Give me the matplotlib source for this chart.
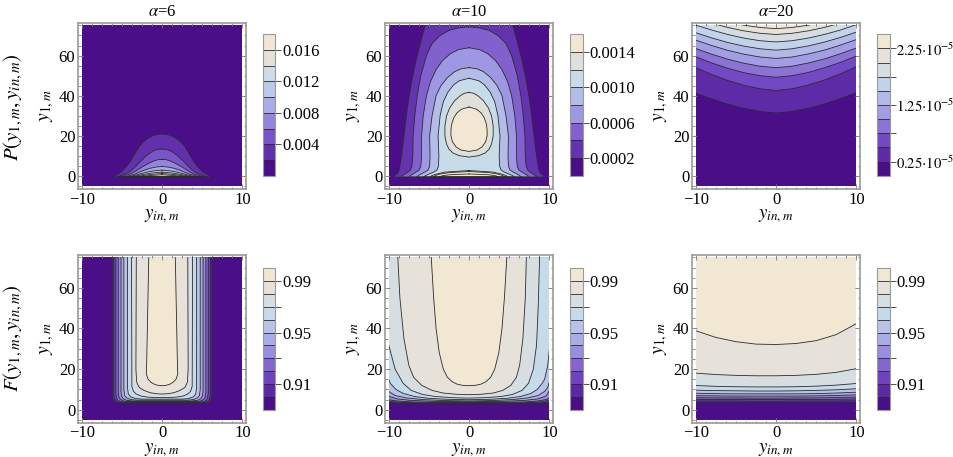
import numpy as np
import matplotlib
matplotlib.use("Agg")
import matplotlib.pyplot as plt
from matplotlib.colors import LinearSegmentedColormap, ListedColormap, BoundaryNorm
from matplotlib.cm import ScalarMappable
from matplotlib.patches import Rectangle
from matplotlib.ticker import FixedLocator, AutoMinorLocator

plt.rcParams['font.family'] = ['Liberation Serif', 'DejaVu Serif']
plt.rcParams['mathtext.fontset'] = 'stix'

# ---------------- data ----------------
# each part: (band above the contour, y1 values, left half width, right half width)
# right half width None -> symmetric about y_in = 0

# P, alpha=6
p6_bounds = [0, 0.002, 0.004, 0.006, 0.008, 0.010, 0.012, 0.014, 0.016, 0.018]
p6_parts = [
    (1, [-0.4, 0.3, 1, 2, 4, 7, 10, 13, 15.5, 17.5, 19, 20.2, 20.8, 21.0],
        [6.2, 5.9, 5.5, 5.1, 4.6, 4.0, 3.55, 3.1, 2.7, 2.2, 1.7, 1.1, 0.6, 0], None),
    (2, [-0.4, 0.3, 1, 2, 4, 6, 8, 10, 11.5, 12.7, 13.3, 13.5],
        [5.6, 5.1, 4.6, 4.1, 3.5, 3.0, 2.5, 2.0, 1.5, 1.0, 0.5, 0], None),
    (3, [-0.4, 0.3, 1, 2, 3.5, 5, 6.5, 7.6, 8.2, 8.4],
        [5.2, 4.6, 4.0, 3.5, 2.9, 2.3, 1.6, 1.0, 0.5, 0], None),
    (4, [-0.4, 0.3, 1, 2, 3, 4, 4.5, 4.8],
        [4.8, 4.0, 3.4, 2.8, 2.2, 1.4, 0.8, 0], None),
    (5, [-0.4, 0.3, 1, 2, 2.6, 3.0], [4.4, 3.5, 2.8, 1.9, 1.1, 0], None),
    (6, [-0.4, 0.3, 1, 1.6, 2.0], [4.0, 3.0, 2.1, 1.2, 0], None),
    (7, [-0.4, 0.3, 0.9, 1.3], [3.6, 2.4, 1.3, 0], None),
    (8, [-0.4, 0.3, 0.7], [3.1, 1.5, 0], None),
]

# P, alpha=10
p10_bounds = [0, 0.0002, 0.0004, 0.0006, 0.0008, 0.0010, 0.0012, 0.0014, 0.0016]
p10_parts = [
    (1, [-0.5, 0.3, 1, 2, 3, 5, 10, 20, 30, 40, 50, 60, 70, 75],
        [9.3, 9.3, 9.0, 8.8, 8.7, 8.6, 8.4, 8.1, 7.8, 7.45, 7.0, 6.45, 5.8, 5.45], None),
    (2, [-0.5, 0.3, 1, 2, 3, 5, 10, 20, 30, 40, 50, 60, 66, 70, 72.5, 73.7, 74.3],
        [8.4, 8.3, 8.0, 7.6, 7.3, 7.1, 7.0, 6.95, 6.75, 6.45, 6.0, 5.3, 4.6, 3.6, 2.5, 1.4, 0], None),
    (3, [-0.5, 0.3, 1, 2, 3, 5, 10, 20, 30, 40, 47, 53, 57.5, 61, 63, 63.9],
        [7.4, 7.3, 7.0, 6.6, 6.2, 6.0, 5.9, 5.9, 5.7, 5.3, 4.8, 4.1, 3.3, 2.3, 1.3, 0], None),
    (4, [-0.5, 0.3, 1, 2, 3, 5, 10, 20, 30, 40, 45, 49, 52, 53.4, 54],
        [6.5, 6.3, 6.0, 5.5, 5.1, 4.9, 4.85, 4.9, 4.6, 4.1, 3.5, 2.7, 1.8, 1.0, 0], None),
    (5, [-0.5, 0.3, 1, 2, 3, 5, 10, 20, 30, 37, 42, 45.5, 47.5, 48.7],
        [5.7, 5.4, 5.0, 4.4, 4.0, 3.8, 3.75, 3.85, 3.6, 3.2, 2.6, 1.9, 1.2, 0], None),
    (6, [9.5, 10.2, 11.5, 13.5, 16, 20, 25, 30, 34, 37.5, 40, 41.2, 41.7],
        [0, 1.2, 2.0, 2.5, 2.8, 3.0, 3.0, 2.8, 2.4, 1.8, 1.1, 0.6, 0], None),
    (6, [-0.5, 0.3, 1, 2, 2.8], [4.9, 4.6, 4.1, 3.0, 0], None),
    (7, [12.3, 13, 14.5, 17, 20, 23, 26, 29, 31.5, 33.3, 34.4],
        [0, 1.0, 1.6, 2.05, 2.25, 2.25, 2.15, 1.9, 1.5, 0.95, 0], None),
    (7, [-0.5, 0.3, 1, 1.8, 2.3], [4.5, 4.2, 3.6, 2.4, 0], None),
    (7, [-0.5, 0.2, 0.7, 1.1], [3.8, 3.3, 2.4, 0], None),
]

# P, alpha=20 : contour heights y1(y_in), region above is higher
p20_bounds = [0, 0.25, 0.5, 0.75, 1.0, 1.25, 1.5, 1.75, 2.0, 2.25, 2.5]  # x 1e-5
p20_x = [-10, -8, -6, -4, -2, 0, 2, 4, 6, 8, 10]
p20_h = [
    [41.3, 38.4, 35.8, 33.7, 32.2, 31.4, 32.2, 33.7, 35.9, 38.5, 41.6],
    [54.0, 50.6, 47.6, 45.2, 43.5, 42.6, 43.5, 45.3, 47.8, 50.9, 54.5],
    [59.4, 56.3, 53.7, 51.5, 50.0, 49.2, 50.0, 51.6, 53.9, 56.6, 59.8],
    [63.5, 60.7, 58.2, 56.2, 54.7, 54.0, 54.7, 56.3, 58.3, 60.9, 63.8],
    [67.7, 65.0, 62.6, 60.7, 59.3, 58.6, 59.3, 60.8, 62.7, 65.2, 68.0],
    [71.4, 68.8, 66.5, 64.7, 63.4, 62.7, 63.4, 64.8, 66.7, 69.0, 71.7],
    [75.2, 72.7, 70.5, 68.7, 67.4, 66.8, 67.4, 68.7, 70.5, 72.7, 75.4],
    [78.5, 76.1, 74.0, 72.3, 71.1, 70.5, 71.1, 72.3, 74.0, 76.1, 78.8],
    [81.0, 78.7, 76.7, 75.1, 74.0, 73.4, 74.0, 75.1, 76.7, 78.7, 81.0],
]

# F, bounds shared by the three lower panels
f_bounds = [0.89, 0.90, 0.91, 0.92, 0.93, 0.94, 0.95, 0.96, 0.97, 0.98, 0.99, 1.00]

# F, alpha=6
f6_parts = [
    (1, [3.1, 3.4, 4.0, 5.0, 7.0, 75], [5.3, 5.8, 6.0, 6.1, 6.2, 6.2], None),
    (2, [3.4, 3.7, 4.3, 5.3, 7.5, 75], [5.0, 5.5, 5.75, 5.9, 6.0, 6.0], None),
    (3, [3.7, 4.0, 4.6, 5.6, 8.0, 75], [4.6, 5.2, 5.5, 5.65, 5.75, 5.75], None),
    (4, [4.0, 4.3, 5.0, 6.0, 8.5, 75], [4.2, 4.85, 5.15, 5.35, 5.45, 5.45], None),
    (5, [4.3, 4.6, 5.3, 6.5, 9.0, 75], [3.7, 4.4, 4.8, 5.0, 5.1, 5.1], None),
    (6, [4.7, 5.0, 5.8, 7.0, 10, 75], [3.2, 3.9, 4.4, 4.65, 4.75, 4.75], None),
    (7, [5.2, 5.5, 6.3, 7.8, 11, 75], [2.5, 3.3, 3.9, 4.2, 4.3, 4.3], None),
    (8, [6.0, 6.2, 6.7, 7.7, 9.0, 11.5, 75], [1.0, 1.8, 2.6, 3.2, 3.55, 3.75, 3.8], None),
    (9, [7.7, 7.9, 8.4, 9.5, 11, 13.5, 20, 75], [0, 0.8, 1.5, 2.25, 2.85, 3.15, 3.25, 3.2], None),
    (10, [11.8, 12.0, 12.5, 13.5, 15, 17.5, 25, 75], [0, 0.5, 0.93, 1.38, 1.74, 1.95, 1.9, 1.65], None),
]

# F, alpha=10 (slightly lopsided: right side falls off sooner)
f10_parts = [
    (1, [2.9, 3.1, 3.5, 4.0, 75], [8.5, 9.8, 10.4, 10.6, 10.6], [8.5, 9.8, 10.4, 10.6, 10.6]),
    (2, [3.1, 3.3, 3.7, 4.3, 75], [7.5, 9.2, 10.2, 10.6, 10.6], [7.5, 9.0, 10.0, 10.6, 10.6]),
    (3, [3.35, 3.55, 4.0, 4.7, 5.3, 75], [6.0, 8.3, 9.6, 10.3, 10.6, 10.6],
        [6.0, 8.1, 9.3, 10.0, 10.6, 10.6]),
    (4, [3.6, 3.8, 4.3, 5.0, 5.8, 7.0, 75], [4.0, 7.0, 9.0, 10.1, 10.6, 10.6, 10.6],
        [4.0, 6.8, 8.6, 9.6, 10.0, 10.6, 10.6]),
    (5, [3.9, 4.1, 4.6, 5.3, 6.3, 6.8, 8.0, 9.5, 75],
        [0, 4.5, 7.3, 8.9, 9.8, 10.0, 10.6, 10.6, 10.6],
        [0, 4.3, 7.0, 8.5, 9.3, 9.6, 9.8, 10.0, 10.6]),
    (6, [4.3, 4.5, 5.0, 5.8, 7.0, 9.0, 11, 14, 75],
        [0, 3.2, 5.8, 7.8, 9.2, 10.0, 10.6, 10.6, 10.6],
        [0, 3.0, 5.5, 7.3, 8.6, 9.4, 9.8, 10.0, 10.6]),
    (7, [4.9, 5.1, 5.6, 6.5, 8.0, 10, 13, 15, 22, 30, 75],
        [0, 2.6, 5.0, 6.8, 8.2, 9.1, 9.8, 10.0, 10.6, 10.6, 10.6],
        [0, 2.5, 4.7, 6.4, 7.7, 8.5, 9.1, 9.4, 9.8, 10.0, 10.6]),
    (8, [5.7, 5.9, 6.5, 7.5, 9.5, 13, 20, 32, 50, 75],
        [0, 2.0, 4.2, 5.8, 7.2, 8.2, 9.2, 10.0, 10.6, 10.6],
        [0, 1.9, 4.0, 5.4, 6.6, 7.4, 8.0, 8.4, 8.6, 8.78]),
    (9, [7.4, 7.6, 8.2, 9.5, 12, 16, 22, 35, 55, 75],
        [0, 1.6, 3.2, 4.6, 5.9, 6.9, 7.5, 8.1, 8.6, 8.86],
        [0, 1.5, 3.0, 4.2, 5.2, 5.9, 6.3, 6.7, 7.0, 7.13]),
    (10, [11.8, 12.0, 12.6, 13.8, 16, 20, 28, 40, 55, 75],
        [0, 0.8, 1.5, 2.1, 2.7, 3.2, 3.7, 4.1, 4.4, 4.7], None),
]

# F, alpha=20 : contour heights y1(y_in)
f20_x = [-10, -7.5, -5, -2.5, 0, 2.5, 5, 7.5, 10]
f20_h = [
    [3.5, 3.5, 3.5, 3.5, 3.5, 3.5, 3.5, 3.5, 3.6],
    [4.3, 4.3, 4.3, 4.2, 4.2, 4.3, 4.3, 4.3, 4.4],
    [5.1, 5.0, 5.0, 5.0, 5.0, 5.0, 5.0, 5.1, 5.3],
    [5.9, 5.8, 5.8, 5.7, 5.7, 5.8, 5.8, 6.0, 6.2],
    [6.9, 6.8, 6.7, 6.7, 6.7, 6.7, 6.8, 7.0, 7.3],
    [8.1, 7.9, 7.8, 7.8, 7.8, 7.8, 7.9, 8.2, 8.6],
    [9.6, 9.4, 9.3, 9.2, 9.2, 9.3, 9.5, 9.8, 10.3],
    [11.9, 11.5, 11.3, 11.2, 11.2, 11.3, 11.6, 12.1, 12.9],
    [18.0, 17.3, 16.9, 16.7, 16.7, 16.9, 17.4, 18.4, 20.2],
    [38.9, 35.6, 33.5, 32.3, 32.1, 32.6, 34.0, 37.0, 42.4],
]

titles = [r'$\alpha$=6', r'$\alpha$=10', r'$\alpha$=20']

# ---------------- style ----------------
cmap = LinearSegmentedColormap.from_list('mma', [
    (0.0, '#4a0f88'), (0.22, '#7348c4'), (0.45, '#a3a0e6'),
    (0.70, '#c6daea'), (0.85, '#dfe0dc'), (1.0, '#f2e7d3')])
LINE = '#2b2b2b'
FRAME = '#9a9a9a'


def band_colors(n):
    return [cmap(v) for v in np.linspace(0, 1, n)]


def clip_rect(ax):
    return Rectangle((-10, -5), 20, 80, transform=ax.transData)


def width_panel(ax, parts, colors):
    ax.add_patch(Rectangle((-10, -5), 20, 80, facecolor=colors[0], lw=0, zorder=0))
    for band, y, wl, wr in parts:
        y = np.asarray(y, float)
        wl = np.asarray(wl, float)
        wr = wl if wr is None else np.asarray(wr, float)
        f = ax.fill_betweenx(y, -wl, wr, facecolor=colors[band], lw=0, zorder=1)
        f.set_clip_path(clip_rect(ax))
        ln, = ax.plot(np.r_[-wl[::-1], wr], np.r_[y[::-1], y], color=LINE, lw=0.6, zorder=2)
        ln.set_clip_path(clip_rect(ax))


def height_panel(ax, x, hs, colors):
    ax.add_patch(Rectangle((-10, -5), 20, 80, facecolor=colors[0], lw=0, zorder=0))
    for k, h in enumerate(hs, start=1):
        f = ax.fill_between(x, h, 90, facecolor=colors[k], lw=0, zorder=1)
        f.set_clip_path(clip_rect(ax))
        ln, = ax.plot(x, h, color=LINE, lw=0.6, zorder=2)
        ln.set_clip_path(clip_rect(ax))


def style_axes(ax):
    ax.set_xlim(-10.45, 10.45)
    ax.set_ylim(-6.4, 76.2)
    ax.xaxis.set_major_locator(FixedLocator([-10, 0, 10]))
    ax.yaxis.set_major_locator(FixedLocator([0, 20, 40, 60]))
    ax.xaxis.set_minor_locator(AutoMinorLocator(8))
    ax.yaxis.set_minor_locator(AutoMinorLocator(4))
    ax.tick_params(which='both', direction='in', top=True, right=True,
                   color='#777777', width=0.6, labelsize=12, pad=2)
    ax.tick_params(which='major', length=3.5)
    ax.tick_params(which='minor', length=1.8)
    for s in ax.spines.values():
        s.set_color(FRAME)
        s.set_linewidth(1.2)
    ax.set_xlabel(r'$y_{in,m}$', fontsize=13.5, labelpad=0)
    ax.set_ylabel(r'$y_{1,m}$', fontsize=14, labelpad=2)


def add_cbar(fig, rect, bounds, colors, ticks, labels, size=12):
    cax = fig.add_axes(rect)
    sm = ScalarMappable(norm=BoundaryNorm(bounds, len(colors)), cmap=ListedColormap(colors))
    cb = fig.colorbar(sm, cax=cax, ticks=ticks)
    cb.set_ticklabels(labels)
    inner = bounds[1:-1]
    cb.add_lines(inner, colors=[LINE] * len(inner), linewidths=[0.6] * len(inner))
    cb.outline.set_edgecolor(FRAME)
    cb.outline.set_linewidth(0.8)
    cax.tick_params(direction='out', length=4, width=0.6, labelsize=size, pad=1, color='#333333')
    cax.minorticks_off()


fig = plt.figure(figsize=(9.54, 4.57), dpi=100)

lefts = [0.0818, 0.4036, 0.7254]
cb_lefts = [0.276, 0.598, 0.9198]
AW = 0.1761

# top row
axes_top = [fig.add_axes([l, 0.5864, AW, 0.3632]) for l in lefts]
c = band_colors(9)
width_panel(axes_top[0], p6_parts, c)
add_cbar(fig, [cb_lefts[0], 0.6155, 0.0126, 0.3094], p6_bounds, c,
         [0.004, 0.008, 0.012, 0.016], ['0.004', '0.008', '0.012', '0.016'])
c = band_colors(8)
width_panel(axes_top[1], p10_parts, c)
add_cbar(fig, [cb_lefts[1], 0.6155, 0.0126, 0.3094], p10_bounds, c,
         [0.0002, 0.0006, 0.0010, 0.0014], ['0.0002', '0.0006', '0.0010', '0.0014'])
c = band_colors(10)
height_panel(axes_top[2], p20_x, p20_h, c)
add_cbar(fig, [cb_lefts[2], 0.6155, 0.0126, 0.3094], p20_bounds, c,
         [0.25, 0.75, 1.25, 1.75, 2.25],
         [r'$0.25{\cdot}10^{\mathrm{-5}}$', '', r'$1.25{\cdot}10^{\mathrm{-5}}$', '',
          r'$2.25{\cdot}10^{\mathrm{-5}}$'], size=10.5)
for ax, t in zip(axes_top, titles):
    style_axes(ax)
    ax.set_title(t, fontsize=12, pad=5)

# bottom row
axes_bot = [fig.add_axes([l, 0.0751, AW, 0.367]) for l in lefts]
c = band_colors(11)
width_panel(axes_bot[0], f6_parts, c)
width_panel(axes_bot[1], f10_parts, c)
height_panel(axes_bot[2], f20_x, f20_h, c)
for ax, l in zip(axes_bot, cb_lefts):
    style_axes(ax)
    add_cbar(fig, [l, 0.1028, 0.0126, 0.3107], f_bounds, c,
             [0.91, 0.93, 0.95, 0.97, 0.99], ['0.91', '', '0.95', '', '0.99'])

fig.text(0.014, 0.766, r'$P(y_{1,m},y_{in,m})$', rotation=90, fontsize=15,
         ha='center', va='center')
fig.text(0.014, 0.26, r'$F(y_{1,m},y_{in,m})$', rotation=90, fontsize=15,
         ha='center', va='center')

fig.savefig('out.png', dpi=100)
